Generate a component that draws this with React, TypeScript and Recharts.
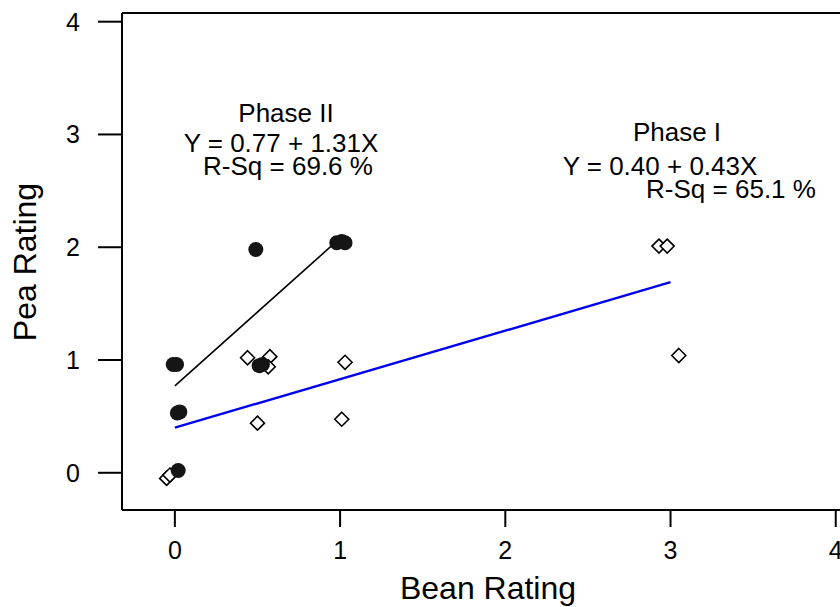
import { ScatterChart, Scatter, XAxis, YAxis, ReferenceLine, Customized } from 'recharts';

// Phase II samples (filled circles)
const phase2X = [-0.01, 0.01, 0.015, 0.03, 0.02, 0.49, 0.98, 1.01, 1.03, 0.51, 0.53];
const phase2Y = [0.96, 0.96, 0.53, 0.54, 0.02, 1.98, 2.04, 2.05, 2.04, 0.95, 0.96];

// Phase I samples (open diamonds)
const phase1X = [-0.05, -0.03, 0.44, 0.575, 0.565, 0.5, 1.03, 1.01, 2.93, 2.98, 3.05];
const phase1Y = [-0.05, -0.02, 1.02, 1.03, 0.94, 0.44, 0.98, 0.475, 2.01, 2.01, 1.04];

// regression coefficients [intercept, slope] and x range of the fitted line
const fit2 = [0.77, 1.31];
const fit2Range = [0, 1];
const fit1 = [0.4, 0.43];
const fit1Range = [0, 3];

const xTicks = [0, 1, 2, 3, 4];
const yTicks = [0, 1, 2, 3, 4];
const xDomain = [-0.32, 4.05];
const yDomain = [-0.33, 4.077];

const toPoints = (xs: number[], ys: number[]) => xs.map((x, i) => ({ x, y: ys[i] }));
const phase2 = toPoints(phase2X, phase2Y);
const phase1 = toPoints(phase1X, phase1Y);

const FONT = '"Liberation Sans", Arial, sans-serif';

const Dot = (props: any) => {
  const { cx, cy } = props;
  return <circle cx={cx} cy={cy} r={7.5} fill="#151515" />;
};

const Diamond = (props: any) => {
  const { cx, cy } = props;
  const s = 7;
  return (
    <path
      d={`M${cx},${cy - s} L${cx + s},${cy} L${cx},${cy + s} L${cx - s},${cy} Z`}
      fill="#fff"
      stroke="#000"
      strokeWidth={1.6}
    />
  );
};

const Annotations = () => (
  <g fontFamily={FONT} fill="#000">
    <text x={286} y={122} fontSize={26} textAnchor="middle">Phase II</text>
    <text x={281} y={152} fontSize={26} textAnchor="middle">Y = 0.77 + 1.31X</text>
    <text x={288} y={175} fontSize={26} textAnchor="middle">R-Sq = 69.6 %</text>
    <text x={677} y={141} fontSize={26} textAnchor="middle">Phase I</text>
    <text x={660} y={175} fontSize={26} textAnchor="middle">Y = 0.40 + 0.43X</text>
    <text x={731} y={198} fontSize={26} textAnchor="middle">R-Sq = 65.1 %</text>
    <text x={488} y={599} fontSize={32} textAnchor="middle">Bean Rating</text>
    <text x={36} y={262} fontSize={32} textAnchor="middle" transform="rotate(-90 36 262)">Pea Rating</text>
  </g>
);

export default function App() {
  const seg = (c: number[], r: number[]) => r.map((x) => ({ x, y: c[0] + c[1] * x }));
  return (
    <div style={{ position: 'fixed', left: 0, top: 0, width: 840, height: 607, overflow: 'hidden', background: '#fff' }}>
      <ScatterChart width={850} height={607} margin={{ top: 13, right: 6, bottom: 0, left: 0 }}>
        <XAxis
          type="number"
          dataKey="x"
          domain={xDomain}
          ticks={xTicks}
          allowDataOverflow
          height={97}
          tickSize={17}
          tickMargin={14}
          axisLine={{ stroke: '#000', strokeWidth: 2 }}
          tickLine={{ stroke: '#000', strokeWidth: 2 }}
          tick={{ fill: '#000', fontSize: 25, fontFamily: FONT }}
        />
        <YAxis
          type="number"
          dataKey="y"
          domain={yDomain}
          ticks={yTicks}
          allowDataOverflow
          width={122}
          tickSize={24}
          tickMargin={18}
          axisLine={{ stroke: '#000', strokeWidth: 2 }}
          tickLine={{ stroke: '#000', strokeWidth: 2 }}
          tick={{ fill: '#000', fontSize: 25, fontFamily: FONT }}
        />
        <ReferenceLine y={yDomain[1]} stroke="#000" strokeWidth={2} ifOverflow="visible" />
        <ReferenceLine segment={seg(fit2, fit2Range)} stroke="#000" strokeWidth={1.6} />
        <ReferenceLine segment={seg(fit1, fit1Range)} stroke="#0000ee" strokeWidth={2.4} />
        <Scatter data={phase1} shape={Diamond} isAnimationActive={false} />
        <Scatter data={phase2} shape={Dot} isAnimationActive={false} />
        <Customized component={Annotations} />
      </ScatterChart>
    </div>
  );
}
